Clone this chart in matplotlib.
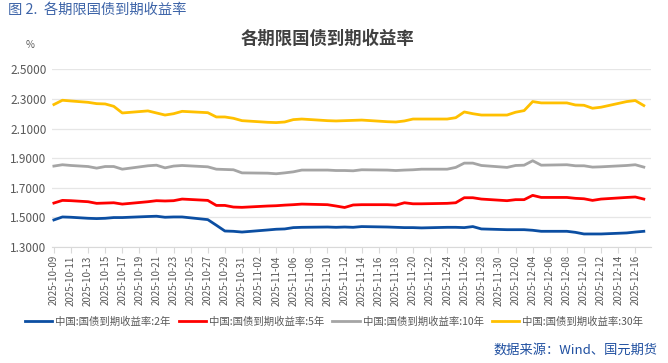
# -*- coding: utf-8 -*-

# 各期限国债到期收益率 chart

import numpy as np
import pandas as pd
import matplotlib
matplotlib.use('Agg')
import matplotlib.pyplot as plt
import matplotlib.dates as mdates

plt.rcParams['font.family'] = ['Noto Sans CJK SC', 'DejaVu Sans']

# trading days
dates = pd.to_datetime([
    '2025-10-09', '2025-10-10', '2025-10-11', '2025-10-13', '2025-10-14', '2025-10-15',
    '2025-10-16', '2025-10-17', '2025-10-20', '2025-10-21', '2025-10-22', '2025-10-23',
    '2025-10-24', '2025-10-27', '2025-10-28', '2025-10-29', '2025-10-30', '2025-10-31',
    '2025-11-03', '2025-11-04', '2025-11-05', '2025-11-06', '2025-11-07', '2025-11-10',
    '2025-11-11', '2025-11-12', '2025-11-13', '2025-11-14', '2025-11-17', '2025-11-18',
    '2025-11-19', '2025-11-20', '2025-11-21', '2025-11-24', '2025-11-25', '2025-11-26',
    '2025-11-27', '2025-11-28', '2025-12-01', '2025-12-02', '2025-12-03', '2025-12-04',
    '2025-12-05', '2025-12-08', '2025-12-09', '2025-12-10', '2025-12-11', '2025-12-12',
    '2025-12-15', '2025-12-16', '2025-12-17'])

y2 = [1.482, 1.502, 1.500, 1.493, 1.491, 1.493, 1.498, 1.498, 1.505, 1.507, 1.500, 1.502,
      1.502, 1.484, 1.446, 1.407, 1.405, 1.400, 1.414, 1.419, 1.421, 1.430, 1.432, 1.434,
      1.432, 1.434, 1.432, 1.437, 1.434, 1.432, 1.430, 1.430, 1.428, 1.432, 1.432, 1.430,
      1.437, 1.421, 1.416, 1.416, 1.416, 1.412, 1.405, 1.405, 1.398, 1.387, 1.387, 1.387,
      1.394, 1.400, 1.405]

y5 = [1.596, 1.614, 1.612, 1.605, 1.594, 1.596, 1.598, 1.589, 1.605, 1.612, 1.610, 1.612,
      1.623, 1.614, 1.580, 1.580, 1.569, 1.567, 1.576, 1.578, 1.582, 1.585, 1.589, 1.585,
      1.576, 1.566, 1.583, 1.585, 1.585, 1.582, 1.598, 1.591, 1.591, 1.594, 1.598, 1.632,
      1.632, 1.623, 1.612, 1.619, 1.619, 1.648, 1.634, 1.634, 1.628, 1.625, 1.614, 1.623,
      1.634, 1.637, 1.623]

y10 = [1.846, 1.855, 1.850, 1.843, 1.832, 1.843, 1.843, 1.825, 1.848, 1.852, 1.834, 1.846,
       1.850, 1.841, 1.825, 1.823, 1.821, 1.800, 1.798, 1.794, 1.800, 1.807, 1.819, 1.819,
       1.816, 1.816, 1.814, 1.821, 1.819, 1.816, 1.819, 1.821, 1.825, 1.825, 1.837, 1.866,
       1.866, 1.850, 1.837, 1.850, 1.852, 1.882, 1.852, 1.855, 1.848, 1.848, 1.839, 1.841,
       1.850, 1.855, 1.839]

y30 = [2.262, 2.291, 2.286, 2.277, 2.268, 2.266, 2.250, 2.205, 2.219, 2.205, 2.191, 2.200,
       2.216, 2.207, 2.178, 2.178, 2.169, 2.153, 2.142, 2.140, 2.144, 2.160, 2.164, 2.153,
       2.151, 2.153, 2.155, 2.157, 2.146, 2.144, 2.151, 2.164, 2.164, 2.164, 2.173, 2.212,
       2.200, 2.191, 2.191, 2.210, 2.221, 2.282, 2.273, 2.273, 2.259, 2.257, 2.237, 2.244,
       2.282, 2.289, 2.255]

labels = ['中国:国债到期收益率:2年', '中国:国债到期收益率:5年',
          '中国:国债到期收益率:10年', '中国:国债到期收益率:30年']
colors = ['#0b4ea2', '#ff0000', '#a5a5a5', '#ffc000']

fig = plt.figure(figsize=(6.68, 3.63), dpi=100)
ax = fig.add_axes([0.078, 0.320, 0.897, 0.489])

for vals, lab, c in zip([y2, y5, y10, y30], labels, colors):
    ax.plot(dates, vals, color=c, lw=2.0, label=lab, solid_joinstyle='round')

ax.set_ylim(1.3, 2.5)
ax.set_yticks(np.arange(1.3, 2.51, 0.2))
ax.yaxis.set_major_formatter(plt.FuncFormatter(lambda v, p: '%.4f' % v))
ax.grid(axis='y', color='#e6e6e6', lw=0.9)
ax.set_axisbelow(True)

ticks = pd.date_range('2025-10-09', '2025-12-16', freq='2D')
ax.set_xticks(ticks)
ax.xaxis.set_major_formatter(mdates.DateFormatter('%Y-%m-%d'))
ax.set_xlim(pd.Timestamp('2025-10-09') - pd.Timedelta(hours=5),
            pd.Timestamp('2025-12-18') - pd.Timedelta(hours=3))

for s in ['top', 'right', 'left']:
    ax.spines[s].set_visible(False)
ax.spines['bottom'].set_color('#d9d9d9')
ax.tick_params(axis='y', length=0, labelsize=8.5, colors='#595959', pad=4)
ax.tick_params(axis='x', length=4, color='#d9d9d9', labelsize=7, colors='#595959',
               labelrotation=90, pad=2)

fig.text(0.045, 0.876, '%', fontsize=7, color='#595959', ha='center', va='center')
fig.text(0.012, 0.972, '图 2.  各期限国债到期收益率', fontsize=10.3, color='#3d64a8',
         ha='left', va='center')
fig.text(0.49, 0.892, '各期限国债到期收益率', fontsize=12.5, fontweight='bold',
         color='#404040', ha='center', va='center')
fig.text(0.985, 0.035, '数据来源：Wind、国元期货', fontsize=9.5, color='#1f4fa0',
         ha='right', va='center')

fig.legend(loc='center', bbox_to_anchor=(0.5, 0.113), ncol=4, frameon=False,
           fontsize=7.5, labelcolor='#595959', handlelength=2.6, handletextpad=0.3,
           columnspacing=0.8)

fig.savefig('out.png', dpi=100)
